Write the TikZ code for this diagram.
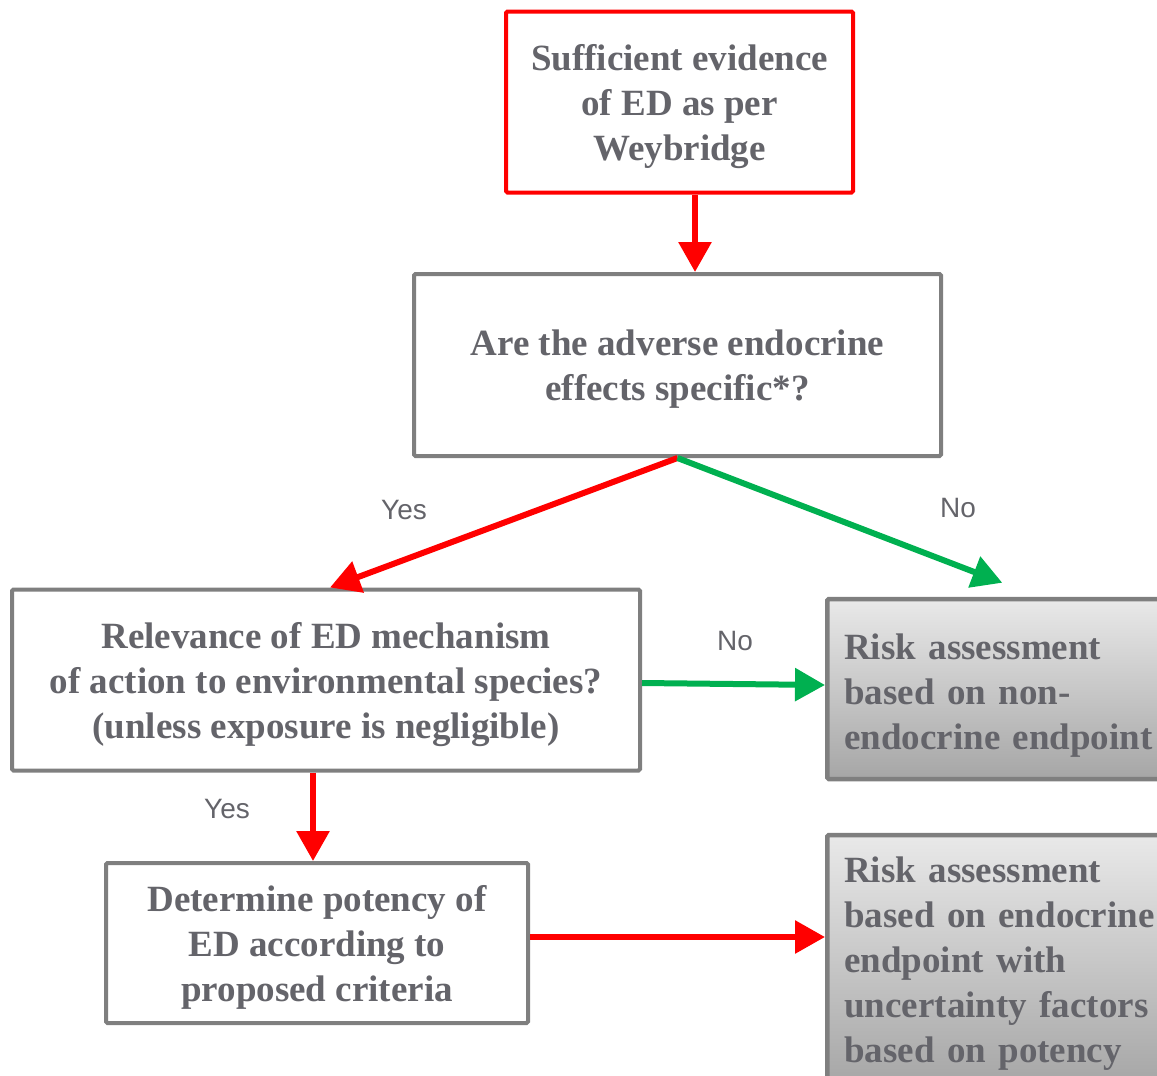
\documentclass[tikz,border=0pt]{standalone}
\usepackage{fontspec}
\setmainfont{Liberation Serif}
\newfontfamily\labelfont{Liberation Sans}
\usetikzlibrary{arrows.meta,calc}
\definecolor{txtgray}{RGB}{100,100,106}
\definecolor{boxgray}{RGB}{127,127,127}
\definecolor{flowred}{RGB}{255,0,0}
\definecolor{flowgreen}{RGB}{0,176,80}
\definecolor{shadetop}{RGB}{233,233,233}
\definecolor{shadebot}{RGB}{166,166,166}
% left-aligned lines, drawn a little lower than their natural place
\newcommand{\lowlines}[2]{\raisebox{-#1}[\height][\depth]{\begin{tabular}{@{}l@{}}#2\end{tabular}}}
\tikzset{
  boxtext/.style={font=\bfseries\fontsize{37}{45}\selectfont, text=txtgray},
  whitebox/.style={boxtext, text depth=0pt, draw=boxgray, line width=4pt, fill=white,
    rounded corners=1.5pt, align=center, inner sep=0pt},
  startbox/.style={whitebox, draw=flowred},
  resultbox/.style={boxtext, draw=boxgray, line width=4.5pt, rounded corners=1.5pt,
    top color=shadetop, bottom color=shadebot, text width=320pt, align=left,
    inner xsep=17pt, inner ysep=0pt, anchor=west},
  flow/.style={line width=6pt, -{Triangle[length=30pt,width=32pt]}},
  redflow/.style={flow, draw=flowred, fill=flowred},
  greenflow/.style={flow, draw=flowgreen, fill=flowgreen},
  answer/.style={font=\labelfont\fontsize{28}{32}\selectfont, text=txtgray}
}
\begin{document}
\begin{tikzpicture}[x=1pt,y=-1pt]
  \clip (0,0) rectangle (1157,1076);
  \useasboundingbox (0,0) rectangle (1157,1076);

  % decision boxes
  \node[startbox, minimum width=347pt, minimum height=181pt] (b1) at (679.5,102)
    {Sufficient evidence\\of ED as per\\Weybridge};
  \node[whitebox, minimum width=527pt, minimum height=182pt] (b2) at (677.5,365)
    {Are the adverse endocrine\\effects specific*?};
  \node[whitebox, minimum width=628pt, minimum height=181pt] (b3) at (326,680)
    {Relevance of ED mechanism\\of action to environmental species?\\(unless exposure is negligible)};
  \node[whitebox, minimum width=422pt, minimum height=160pt] (b5) at (317,943)
    {Determine potency of\\ED according to\\proposed criteria};

  % outcome boxes
  \node[resultbox, minimum height=180pt] (g1) at (825,689)
    {\lowlines{6pt}{Risk assessment\\based on non-\\endocrine endpoint}};
  \node[resultbox, minimum height=250pt] (g2) at (825,960)
    {\lowlines{3pt}{Risk assessment\\based on endocrine\\endpoint with\\uncertainty factors\\based on potency}};

  % connector end points
  \coordinate (s1) at ($(b1.south)+(15.5,0)$);
  \coordinate (s3) at ($(b3.south)+(-13,0)$);
  \coordinate (s5) at ($(b5.east)+(0,-6)$);
  \coordinate (t1) at ($(g1.north)+(-2,-14)$);

  % connectors
  \draw[redflow] (s1) -- (s1 |- b2.north);
  \draw[redflow] (b2.south) -- ($(b3.north)+(4,0)$);
  \draw[greenflow] (b2.south) -- (t1);
  \draw[greenflow] ($(b3.east)+(0,3)$) -- ($(g1.west)+(0,-4)$);
  \draw[redflow] (s3) -- (s3 |- b5.north);
  \draw[redflow] (s5) -- (s5 -| g2.west);

  % answer labels
  \node[answer] (yes1) at (404,510) {Yes};
  \node[answer] (no1) at (958,508) {No};
  \node[answer] (no2) at (735,641) {No};
  \node[answer] (yes2) at (227,809) {Yes};
\end{tikzpicture}
\end{document}
